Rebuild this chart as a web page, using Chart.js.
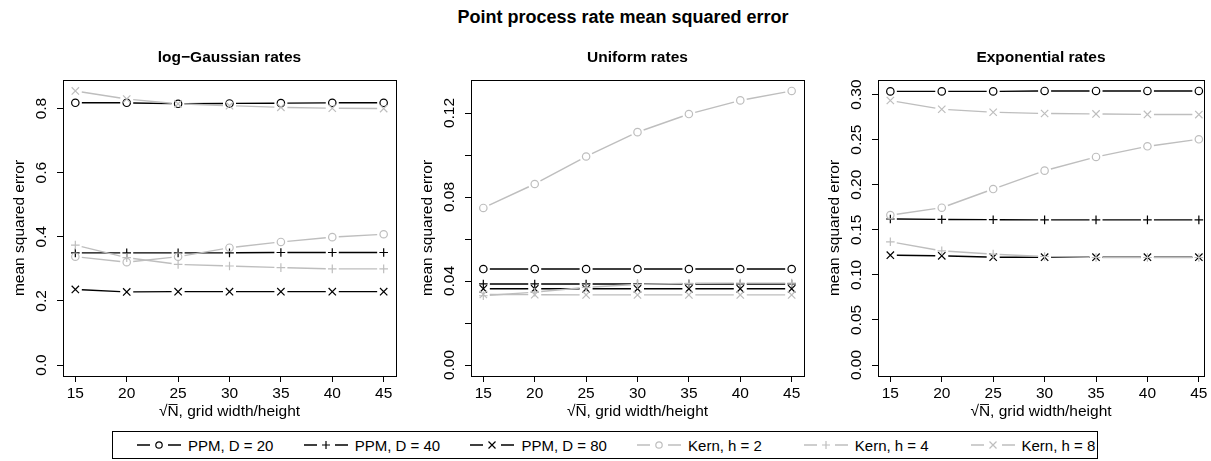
<!DOCTYPE html>
<html>
<head>
<meta charset="utf-8">
<script src="https://cdn.jsdelivr.net/npm/chart.js@4"></script>
<style>
  body { margin: 0; width: 1211px; height: 461px; overflow: hidden; background: #fff;
         font-family: "Liberation Sans", Arial, Helvetica, sans-serif; color: #000; }
  #mainTitle { position: absolute; left: 623px; top: 7px; transform: translateX(-50%);
               font-weight: bold; font-size: 18px; line-height: 20px; white-space: nowrap; }
  canvas { position: absolute; top: 30px; }
  #legend { position: absolute; left: 112px; top: 431px; width: 986px; height: 28px;
            border: 1px solid #000; box-sizing: border-box; font-size: 15px; }
  .item { position: absolute; top: 0; height: 100%; display: flex; align-items: center; white-space: nowrap; }
  .item svg { margin-right: 7px; }
</style>
</head>
<body>
<div id="mainTitle">Point process rate mean squared error</div>
<canvas id="panel0" width="403" height="391" style="left:0px"></canvas>
<canvas id="panel1" width="403" height="391" style="left:408px"></canvas>
<canvas id="panel2" width="396" height="391" style="left:815px"></canvas>
<div id="legend"></div>
<script>
const xValues = [15, 20, 25, 30, 35, 40, 45];
const xTickLabels = ['15', '20', '25', '30', '35', '40', '45'];
const seriesNames = ['PPM, D = 20', 'PPM, D = 40', 'PPM, D = 80', 'Kern, h = 2', 'Kern, h = 4', 'Kern, h = 8'];
const panelTitles = ['log\u2212Gaussian rates', 'Uniform rates', 'Exponential rates'];

// log-Gaussian rates
const lgPpm20 = [0.818, 0.818, 0.815, 0.816, 0.817, 0.818, 0.818];
const lgPpm40 = [0.350, 0.350, 0.350, 0.350, 0.351, 0.351, 0.351];
const lgPpm80 = [0.236, 0.228, 0.229, 0.229, 0.229, 0.229, 0.229];
const lgKern2 = [0.338, 0.321, 0.338, 0.366, 0.384, 0.399, 0.408];
const lgKern4 = [0.374, 0.335, 0.314, 0.309, 0.304, 0.300, 0.300];
const lgKern8 = [0.855, 0.830, 0.815, 0.809, 0.804, 0.801, 0.800];
const lgTicks = [0, 0.2, 0.4, 0.6, 0.8];
const lgTickLabels = ['0.0', '0.2', '0.4', '0.6', '0.8'];

// uniform rates
const unPpm20 = [0.0457, 0.0457, 0.0457, 0.0457, 0.0457, 0.0457, 0.0457];
const unPpm40 = [0.0386, 0.0386, 0.0386, 0.0386, 0.0386, 0.0386, 0.0386];
const unPpm80 = [0.0363, 0.0363, 0.0363, 0.0363, 0.0363, 0.0363, 0.0363];
const unKern2 = [0.0748, 0.0862, 0.0993, 0.1109, 0.1195, 0.1260, 0.1305];
const unKern4 = [0.0330, 0.0347, 0.0370, 0.0384, 0.0389, 0.0390, 0.0390];
const unKern8 = [0.0336, 0.0335, 0.0334, 0.0334, 0.0334, 0.0334, 0.0334];
const unTicks = [0, 0.02, 0.04, 0.06, 0.08, 0.10, 0.12];
const unTickLabels = ['0.00', '', '0.04', '', '0.08', '', '0.12'];

// exponential rates
const exPpm20 = [0.3035, 0.3035, 0.3035, 0.3040, 0.3040, 0.3040, 0.3040];
const exPpm40 = [0.1620, 0.1615, 0.1612, 0.1610, 0.1610, 0.1610, 0.1610];
const exPpm80 = [0.1219, 0.1211, 0.1196, 0.1196, 0.1196, 0.1196, 0.1196];
const exKern2 = [0.1663, 0.1745, 0.1952, 0.2156, 0.2308, 0.2426, 0.2504];
const exKern4 = [0.1367, 0.1267, 0.1230, 0.1204, 0.1193, 0.1193, 0.1193];
const exKern8 = [0.2934, 0.2837, 0.2804, 0.2790, 0.2785, 0.2780, 0.2778];
const exTicks = [0, 0.05, 0.10, 0.15, 0.20, 0.25, 0.30];
const exTickLabels = ['0.00', '0.05', '0.10', '0.15', '0.20', '0.25', '0.30'];

const seriesColors = ['#000000', '#000000', '#000000', '#bebebe', '#bebebe', '#bebebe'];
const pointStyles = ['circle', 'cross', 'crossRot', 'circle', 'cross', 'crossRot'];
const pointRadii = [3.7, 4.3, 5.2, 3.7, 4.3, 5.2];

const fontFamily = '"Liberation Sans", Arial, Helvetica, sans-serif';
Chart.defaults.font.family = fontFamily;
Chart.defaults.color = '#000';

// R type="b": segments stop short of the points
const gapLines = {
    id: 'gapLines',
    afterDatasetDraw(chart, args) {
        const pts = args.meta.data;
        const ctx = chart.ctx;
        const gap = 6.5;
        ctx.save();
        ctx.strokeStyle = chart.data.datasets[args.index].borderColor;
        ctx.lineWidth = 1.4;
        ctx.beginPath();
        for (let k = 1; k < pts.length; k++) {
            const a = pts[k - 1], b = pts[k];
            const dx = b.x - a.x, dy = b.y - a.y;
            const len = Math.hypot(dx, dy);
            if (len <= 2 * gap) continue;
            ctx.moveTo(a.x + dx / len * gap, a.y + dy / len * gap);
            ctx.lineTo(b.x - dx / len * gap, b.y - dy / len * gap);
        }
        ctx.stroke();
        ctx.restore();
    }
};

const frameBox = {
    id: 'frameBox',
    afterDraw(chart) {
        const { ctx, chartArea } = chart;
        ctx.save();
        ctx.strokeStyle = '#000';
        ctx.lineWidth = 1;
        ctx.strokeRect(Math.round(chartArea.left) + 0.5, Math.round(chartArea.top) + 0.5,
            Math.round(chartArea.width), Math.round(chartArea.height));
        ctx.restore();
    }
};

const measureCtx = document.createElement('canvas').getContext('2d');
measureCtx.font = '15.5px ' + fontFamily;

function makePanel(id, title, series, ticks, tickLabels, xMax, padRight) {
    const yMax = Math.max(...series.flat());
    const widest = Math.max(...tickLabels.map(t => measureCtx.measureText(t).width));

    const datasets = series.map((vals, i) => ({
        label: seriesNames[i],
        data: vals.map((v, j) => ({ x: xValues[j], y: v })),
        showLine: false,
        borderColor: seriesColors[i],
        pointStyle: pointStyles[i],
        pointRadius: pointRadii[i],
        pointBorderWidth: 1.2,
        pointBackgroundColor: 'rgba(0,0,0,0)',
        order: series.length - i,
    }));

    const tickGrid = { drawOnChartArea: false, drawTicks: true, tickLength: 6, color: '#000', lineWidth: 1 };

    return new Chart(document.getElementById(id), {
        type: 'line',
        data: { datasets: datasets },
        options: {
            responsive: false,
            animation: false,
            events: [],
            layout: { padding: { left: 0, right: padRight, top: 0, bottom: 0 } },
            scales: {
                x: {
                    type: 'linear',
                    min: 13.8,
                    max: xMax,
                    afterBuildTicks: s => { s.ticks = xValues.map(v => ({ value: v })); },
                    afterFit: s => { s.height = 45; },
                    grid: tickGrid,
                    border: { display: false },
                    ticks: {
                        autoSkip: false, maxRotation: 0, padding: 2.7, color: '#000',
                        font: { size: 15.5 },
                        callback: (v, i) => xTickLabels[i],
                    },
                    title: {
                        display: true, text: '\u221AN\u0305, grid width/height', color: '#000',
                        font: { size: 15.5 }, padding: 0,
                    },
                },
                y: {
                    type: 'linear',
                    min: -0.04 * yMax,
                    max: 1.04 * yMax,
                    afterBuildTicks: s => { s.ticks = ticks.map(v => ({ value: v })); },
                    afterFit: s => { s.width = 63; },
                    grid: tickGrid,
                    border: { display: false },
                    ticks: {
                        minRotation: 90, maxRotation: 90, crossAlign: 'center',
                        padding: 15 - widest / 2, color: '#000',
                        font: { size: 15.5 },
                        callback: (v, i) => tickLabels[i],
                    },
                    title: {
                        display: true, text: 'mean squared error', color: '#000',
                        font: { size: 15.5 }, padding: { top: 10.7, bottom: 0 },
                    },
                },
            },
            plugins: {
                legend: { display: false },
                tooltip: { enabled: false },
                title: {
                    display: true, text: title, fullSize: false, color: '#000',
                    font: { size: 15.5, weight: 'bold' },
                    padding: { top: 18.7, bottom: 12.7 },
                },
            },
        },
        plugins: [gapLines, frameBox],
    });
}

makePanel('panel0', panelTitles[0], [lgPpm20, lgPpm40, lgPpm80, lgKern2, lgKern4, lgKern8], lgTicks, lgTickLabels, 46.2, 7);
makePanel('panel1', panelTitles[1], [unPpm20, unPpm40, unPpm80, unKern2, unKern4, unKern8], unTicks, unTickLabels, 46.2, 7);
makePanel('panel2', panelTitles[2], [exPpm20, exPpm40, exPpm80, exKern2, exKern4, exKern8], exTicks, exTickLabels, 45.5, 7);

// legend across the bottom, symbols drawn as small svg
function markerSvg(style, color) {
    let m = '';
    if (style === 'circle') {
        m = '<circle cx="22" cy="8" r="3.2" fill="none" stroke="' + color + '" stroke-width="1.2"/>';
    } else if (style === 'cross') {
        m = '<path d="M18 8H26M22 4V12" stroke="' + color + '" stroke-width="1.2"/>';
    } else {
        m = '<path d="M18.5 4.5L25.5 11.5M25.5 4.5L18.5 11.5" stroke="' + color + '" stroke-width="1.2"/>';
    }
    return '<svg width="44" height="16" viewBox="0 0 44 16">' +
        '<path d="M0 8H13M31 8H44" stroke="' + color + '" stroke-width="1.6"/>' + m + '</svg>';
}

const legendEl = document.getElementById('legend');
seriesNames.forEach((name, i) => {
    const item = document.createElement('div');
    item.className = 'item';
    item.style.left = (24 + i * 166.7) + 'px';
    item.innerHTML = markerSvg(pointStyles[i], seriesColors[i]) + '<span>' + name + '</span>';
    legendEl.appendChild(item);
});
</script>
</body>
</html>
